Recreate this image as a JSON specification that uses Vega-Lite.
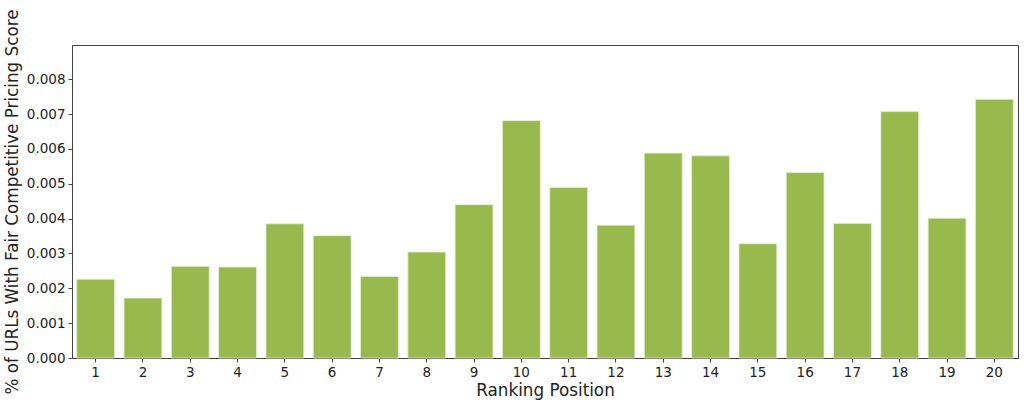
{
  "$schema": "https://vega.github.io/schema/vega-lite/v6.json",
  "width": 946,
  "height": 313,
  "autosize": "none",
  "padding": {"left": 72, "top": 45, "right": 6, "bottom": 46},
  "background": "white",
  "config": {
    "font": "DejaVu Sans",
    "view": {"stroke": "#444", "strokeWidth": 1},
    "axis": {
      "domainColor": "#444",
      "tickColor": "#444",
      "labelColor": "#222",
      "titleColor": "#222",
      "labelFont": "DejaVu Sans",
      "titleFont": "DejaVu Sans",
      "labelFontSize": 13.5,
      "titleFontSize": 16.8,
      "titleFontWeight": "normal",
      "tickSize": 4,
      "labelPadding": 3,
      "grid": false
    }
  },
  "data": {
    "values": [
      {"rank": 1, "pct": 0.00226},
      {"rank": 2, "pct": 0.00172},
      {"rank": 3, "pct": 0.00263},
      {"rank": 4, "pct": 0.00261},
      {"rank": 5, "pct": 0.00385},
      {"rank": 6, "pct": 0.00351},
      {"rank": 7, "pct": 0.00234},
      {"rank": 8, "pct": 0.00304},
      {"rank": 9, "pct": 0.0044},
      {"rank": 10, "pct": 0.00681},
      {"rank": 11, "pct": 0.00489},
      {"rank": 12, "pct": 0.00381},
      {"rank": 13, "pct": 0.00588},
      {"rank": 14, "pct": 0.0058},
      {"rank": 15, "pct": 0.00328},
      {"rank": 16, "pct": 0.00532},
      {"rank": 17, "pct": 0.00386},
      {"rank": 18, "pct": 0.00707},
      {"rank": 19, "pct": 0.00401},
      {"rank": 20, "pct": 0.00742}
    ]
  },
  "mark": {"type": "bar", "color": "#97b94d", "stroke": "#e4edd2", "strokeWidth": 0.8},
  "encoding": {
    "x": {
      "field": "rank",
      "type": "ordinal",
      "title": "Ranking Position",
      "scale": {"paddingInner": 0.2, "paddingOuter": 0.1},
      "axis": {"labelAngle": 0, "titlePadding": 4}
    },
    "y": {
      "field": "pct",
      "type": "quantitative",
      "title": "% of URLs With Fair Competitive Pricing Score",
      "scale": {"domain": [0, 0.00898], "nice": false},
      "axis": {
        "values": [0, 0.001, 0.002, 0.003, 0.004, 0.005, 0.006, 0.007, 0.008],
        "format": ".3f",
        "titlePadding": 5
      }
    }
  }
}
